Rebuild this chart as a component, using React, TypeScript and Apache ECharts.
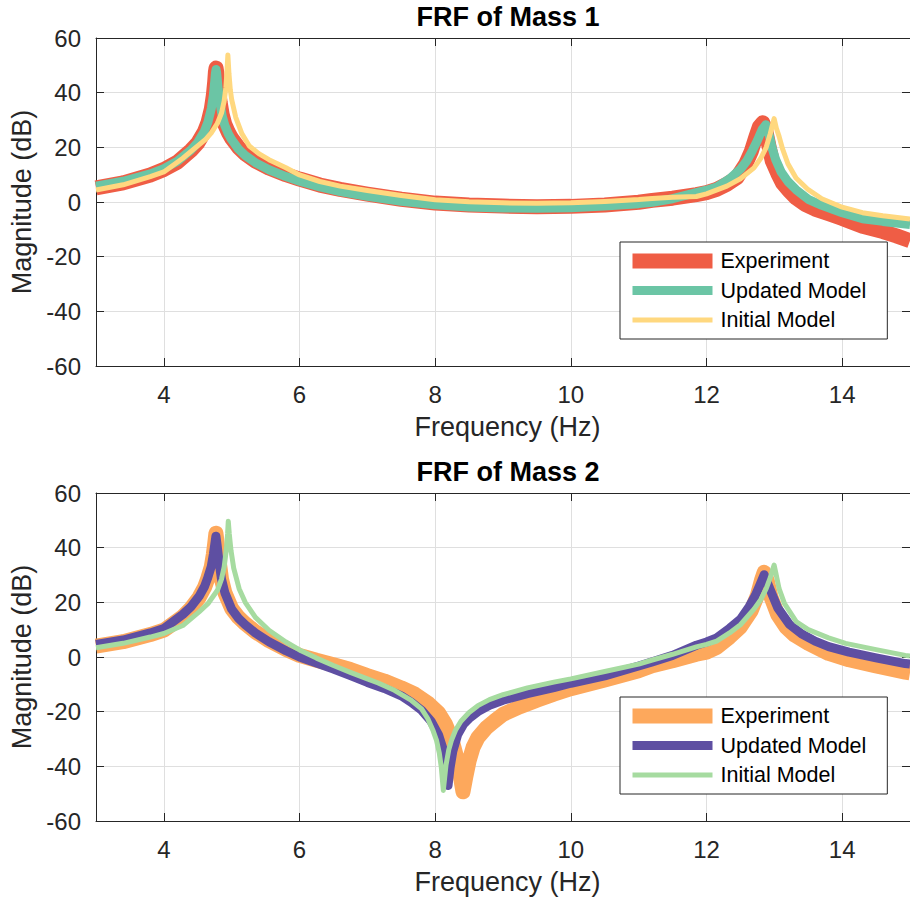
import React, { useEffect, useRef } from "react";
import * as echarts from "echarts";

// ---------- Mass 1 ----------
const m1ExpFreq = [3.0, 3.4, 3.8, 4.0, 4.2, 4.4, 4.5, 4.6, 4.65, 4.7, 4.73, 4.75, 4.76, 4.77, 4.78, 4.8, 4.83, 4.86, 4.9, 4.95, 5.0, 5.1, 5.2, 5.35, 5.55, 5.8, 6.0, 6.3, 6.6, 7.0, 7.5, 8.0, 8.5, 9.0, 9.5, 10.0, 10.5, 11.0, 11.2, 11.5, 11.85, 12.0, 12.15, 12.3, 12.45, 12.58, 12.66, 12.73, 12.78, 12.83, 12.87, 12.92, 12.97, 13.05, 13.12, 13.22, 13.32, 13.45, 13.6, 13.8, 14.0, 14.3, 14.6, 14.8, 15.0];
const m1ExpDb = [5.2, 7.0, 9.9, 11.9, 14.6, 18.9, 21.6, 25.8, 29, 34, 39, 44, 47.5, 49, 47.5, 42, 36.5, 32, 28.3, 25.5, 23.3, 20, 17.6, 15, 12.4, 10, 8.4, 6.2, 4.6, 2.9, 1.0, -0.4, -1.1, -1.5, -1.7, -1.6, -1.1, -0.1, 0.6, 1.4, 2.7, 3.4, 4.6, 6.5, 9, 14, 18.5, 24, 27.5, 29, 26.5, 20.5, 15, 10.5, 7, 4, 1.5, -0.8, -2.6, -4.3, -6.0, -8.9, -10.8, -12.4, -14.2];

const m1UpdFreq = [3.0, 3.4, 3.8, 4.0, 4.2, 4.4, 4.5, 4.6, 4.65, 4.7, 4.73, 4.75, 4.76, 4.77, 4.78, 4.8, 4.83, 4.86, 4.9, 4.95, 5.0, 5.1, 5.2, 5.35, 5.55, 5.8, 6.0, 6.3, 6.6, 7.0, 7.5, 8.0, 8.5, 9.0, 9.5, 10.0, 10.5, 11.0, 11.2, 11.5, 11.85, 12.0, 12.15, 12.34, 12.5, 12.6, 12.68, 12.75, 12.82, 12.875, 12.92, 12.97, 13.02, 13.1, 13.2, 13.32, 13.5, 13.7, 14.0, 14.3, 14.6, 15.0];
const m1UpdDb = [5.8, 7.6, 10.3, 12.2, 14.9, 19.0, 21.8, 26, 29.2, 34.2, 39, 44, 47, 48.5, 47, 41.5, 36, 31.5, 28, 25, 22.8, 19.4, 17, 14.4, 11.8, 9.3, 7.6, 5.5, 3.8, 2.1, 0.3, -1.0, -1.8, -2.2, -2.3, -2.1, -1.5, -0.6, -0.1, 1.2, 3.4, 4.3, 5.5, 8.5, 12, 15.3, 19, 22.5, 26.5, 28.3, 25, 19.5, 15.5, 11, 7.5, 4.5, 1.0, -1.2, -3.9, -6.1, -7.1, -8.2];

const m1InitFreq = [3.0, 3.4, 3.8, 4.0, 4.28, 4.45, 4.62, 4.7, 4.79, 4.85, 4.89, 4.915, 4.93, 4.944, 4.96, 4.98, 5.0, 5.06, 5.15, 5.26, 5.4, 5.55, 5.8, 6.0, 6.3, 6.6, 7.0, 7.5, 8.0, 8.5, 9.0, 9.5, 10.0, 10.5, 11.0, 11.2, 11.5, 11.85, 12.0, 12.3, 12.5, 12.7, 12.8, 12.88, 12.94, 12.975, 12.997, 13.03, 13.07, 13.12, 13.2, 13.32, 13.5, 13.7, 14.0, 14.3, 14.6, 15.0];
const m1InitDb = [4.4, 6.3, 9.3, 11.0, 16, 19.5, 23, 25.3, 28.8, 32.5, 37, 42, 47.5, 53.8, 47, 41, 37.5, 31, 25, 20.5, 17.7, 15.5, 12.5, 9.9, 7.5, 5.8, 4.2, 2.4, 0.8, 0.1, -0.3, -0.5, -0.3, 0.2, 0.9, 1.3, 1.7, 2.0, 3.0, 5.8, 8.5, 12.5, 16, 20, 25, 28.5, 30.5, 27, 24, 19.5, 14, 8.8, 4.5, 1.2, -1.9, -3.9, -5.0, -6.2];

// ---------- Mass 2 ----------
const m2ExpFreq = [3.0, 3.4, 3.8, 4.0, 4.28, 4.4, 4.52, 4.6, 4.645, 4.7, 4.73, 4.75, 4.768, 4.785, 4.81, 4.85, 4.9, 5.0, 5.1, 5.2, 5.35, 5.55, 5.8, 6.0, 6.25, 6.5, 6.75, 7.0, 7.25, 7.5, 7.7, 7.9, 8.05, 8.15, 8.25, 8.32, 8.37, 8.41, 8.45, 8.5, 8.56, 8.63, 8.75, 8.87, 9.0, 9.25, 9.5, 9.75, 10.0, 10.5, 11.0, 11.2, 11.5, 11.85, 12.0, 12.15, 12.34, 12.5, 12.66, 12.75, 12.81, 12.85, 12.9, 12.95, 13.05, 13.17, 13.3, 13.5, 13.8, 14.1, 14.5, 14.93, 15.0];
const m2ExpDb = [4.0, 5.6, 8.2, 9.8, 14.8, 17.8, 21.8, 25.5, 28.5, 33, 37.5, 41.5, 45.3, 42, 36, 28.5, 23.5, 17.7, 14.5, 12.2, 9.2, 6.0, 2.8, 0.6, -1.2, -2.8, -4.6, -6.8, -8.8, -11.3, -13.6, -17, -20.5, -24.5, -30.5, -37, -43.5, -49.3, -44, -38, -33, -29.5, -26, -23.5, -21, -18.2, -15.8, -13.6, -11.6, -8.4, -5.0, -3.2, -1.4, 1.0, 1.8, 3.5, 7.3, 11, 17, 22.5, 28, 31, 27.5, 22, 15.5, 11, 8, 5, 1.3, -1.0, -3.3, -5.5, -5.8];

const m2UpdFreq = [3.0, 3.4, 3.8, 4.0, 4.28, 4.4, 4.52, 4.6, 4.645, 4.7, 4.73, 4.75, 4.768, 4.785, 4.81, 4.85, 4.9, 5.0, 5.1, 5.2, 5.35, 5.55, 5.8, 6.0, 6.25, 6.5, 6.75, 7.0, 7.25, 7.5, 7.65, 7.8, 7.94, 8.05, 8.12, 8.16, 8.19, 8.22, 8.26, 8.33, 8.42, 8.5, 8.63, 8.8, 9.0, 9.36, 9.75, 10.0, 10.5, 11.0, 11.2, 11.5, 11.85, 12.0, 12.15, 12.34, 12.5, 12.63, 12.72, 12.79, 12.85, 12.9, 12.97, 13.05, 13.22, 13.4, 13.6, 13.8, 14.1, 14.5, 14.93, 15.0];
const m2UpdDb = [4.6, 6.2, 8.8, 10.4, 15.6, 18.4, 22.2, 25.8, 28.8, 33.2, 37.5, 41, 44.2, 41, 35.5, 28.5, 23.5, 17.5, 14.2, 11.8, 8.8, 5.6, 2.3, 0.0, -2.2, -4.4, -6.8, -9.3, -11.5, -14.2, -16.6, -19.5, -23.5, -28.5, -34, -40, -47, -40.5, -34.5, -28.5, -24.5, -22.5, -20, -17.7, -15.8, -13.4, -11.2, -9.6, -6.9, -3.3, -1.8, 0.6, 4.3, 5.5, 7, 10.5, 13.8, 18.5, 22.5, 26.5, 30.1, 27, 22.8, 18, 12, 8.5, 5.8, 3.8, 1.8, -0.3, -2.4, -2.6];

const m2InitFreq = [3.0, 3.4, 3.8, 4.0, 4.28, 4.52, 4.65, 4.79, 4.85, 4.89, 4.92, 4.94, 4.95, 4.965, 4.99, 5.03, 5.11, 5.2, 5.35, 5.55, 5.8, 6.0, 6.25, 6.5, 6.75, 7.0, 7.16, 7.4, 7.65, 7.8, 7.89, 7.97, 8.02, 8.06, 8.09, 8.12, 8.16, 8.2, 8.24, 8.3, 8.38, 8.5, 8.63, 8.8, 9.0, 9.36, 9.75, 10.0, 10.5, 11.0, 11.2, 11.5, 11.85, 12.0, 12.15, 12.34, 12.5, 12.7, 12.8, 12.88, 12.94, 12.975, 12.997, 13.02, 13.07, 13.15, 13.32, 13.5, 13.8, 14.05, 14.5, 14.93, 15.0];
const m2InitDb = [3.4, 5.0, 7.3, 8.6, 11.5, 16.5, 19.5, 24.4, 28.5, 33, 39, 45, 49.7, 45, 39, 32.5, 25, 20, 14.5, 9.8, 5.5, 2.6, -0.4, -3.1, -5.6, -8.0, -9.5, -12.2, -15.9, -19.0, -22.5, -27, -30.5, -35, -40.3, -48.8, -39.5, -34, -30.5, -26.8, -23.5, -20.3, -17.8, -15.6, -13.8, -11.3, -9.2, -8.0, -5.3, -2.6, -1.1, 1.0, 3.7, 4.6, 5.8, 8.8, 11.8, 17.5, 21, 25, 29, 32, 33.6, 31, 25, 19.5, 13, 10, 7, 5, 2.7, 0.6, 0.4];

// ---------- axes / labels ----------
const xTicks = [4, 6, 8, 10, 12, 14];
const seriesNames = ["Experiment", "Updated Model", "Initial Model"];
const panelTitles = ["FRF of Mass 1", "FRF of Mass 2"];

const FONT = '"Liberation Sans", Arial, Helvetica, sans-serif';
const AXIS_COLOR = "#262626";
const GRID_COLOR = "#dfdfdf";
const LINE_WIDTHS = [15, 9, 5];
const PANEL_COLORS = [
  ["#EF5D45", "#6BC5A5", "#FFD87F"],
  ["#FDA85C", "#5E4FA2", "#A6DBA0"],
];
const PANEL_TOP = [38, 493];
const PANEL_HEIGHT = 328;

const toPoints = (f: number[], v: number[]) => f.map((x, i) => [x, v[i]]);

const panelData = [
  [toPoints(m1ExpFreq, m1ExpDb), toPoints(m1UpdFreq, m1UpdDb), toPoints(m1InitFreq, m1InitDb)],
  [toPoints(m2ExpFreq, m2ExpDb), toPoints(m2UpdFreq, m2UpdDb), toPoints(m2InitFreq, m2InitDb)],
];

function buildOption() {
  const grid: any[] = [];
  const xAxis: any[] = [];
  const yAxis: any[] = [];
  const series: any[] = [];
  const legend: any[] = [];
  const title: any[] = [];

  const axisLine = { show: true, onZero: false, lineStyle: { color: AXIS_COLOR, width: 1 } };
  const tick = { show: true, inside: true, length: 8, lineStyle: { color: AXIS_COLOR, width: 1 } };

  PANEL_TOP.forEach((top, p) => {
    grid.push({ left: 96, right: -5, top, height: PANEL_HEIGHT, containLabel: false });

    xAxis.push({
      type: "value", gridIndex: p, position: "bottom", min: 3, max: 15,
      name: "Frequency (Hz)", nameLocation: "middle", nameGap: 47,
      nameTextStyle: { fontFamily: FONT, fontSize: 27, color: AXIS_COLOR, padding: [0, 0, 0, 9] },
      axisLine,
      axisTick: { ...tick, customValues: xTicks },
      axisLabel: { customValues: xTicks, fontFamily: FONT, fontSize: 24, color: AXIS_COLOR, margin: 16 },
      splitLine: { show: true, lineStyle: { color: GRID_COLOR, width: 1 } },
    });
    xAxis.push({
      type: "value", gridIndex: p, position: "top", min: 3, max: 15,
      axisLine,
      axisTick: { ...tick, customValues: xTicks },
      axisLabel: { show: false, customValues: xTicks },
      splitLine: { show: false },
    });

    yAxis.push({
      type: "value", gridIndex: p, position: "left", min: -60, max: 60, interval: 20,
      name: "Magnitude (dB)", nameLocation: "middle", nameGap: 59, nameRotate: 90,
      nameTextStyle: { fontFamily: FONT, fontSize: 27, color: AXIS_COLOR },
      axisLine, axisTick: tick,
      axisLabel: { fontFamily: FONT, fontSize: 24, color: AXIS_COLOR, margin: 15 },
      splitLine: { show: true, lineStyle: { color: GRID_COLOR, width: 1 } },
    });
    yAxis.push({
      type: "value", gridIndex: p, position: "right", min: -60, max: 60, interval: 20,
      axisLine, axisTick: tick, axisLabel: { show: false }, splitLine: { show: false },
    });

    panelData[p].forEach((pts, i) => {
      series.push({
        type: "line", name: seriesNames[i], data: pts,
        xAxisIndex: p * 2, yAxisIndex: p * 2,
        symbol: "none", showSymbol: false, silent: true, clip: true,
        lineStyle: { color: PANEL_COLORS[p][i], width: LINE_WIDTHS[i], cap: "butt", join: "round" },
        itemStyle: { color: PANEL_COLORS[p][i] },
        emphasis: { disabled: true },
      });
    });

    legend.push({
      orient: "vertical", left: 620, top: top + 204,
      padding: [8, 21, 8, 5], itemWidth: 80, itemHeight: 16, itemGap: 7.5,
      borderColor: AXIS_COLOR, borderWidth: 1, borderRadius: 0, backgroundColor: "#ffffff",
      selectedMode: false,
      textStyle: { fontFamily: FONT, fontSize: 21.5, color: "#000000", padding: [0, 0, 0, 3] },
      data: seriesNames.map((name, i) => ({
        name,
        lineStyle: { color: PANEL_COLORS[p][i], width: LINE_WIDTHS[i], opacity: 1, cap: "butt" },
        itemStyle: { color: PANEL_COLORS[p][i], opacity: 0 },
      })),
    });

    title.push({
      text: panelTitles[p], left: 508, top: top - 34.5, textAlign: "center", padding: 0,
      textStyle: { fontFamily: FONT, fontSize: 27, fontWeight: "bold", color: "#000000" },
    });
  });

  return {
    animation: false,
    backgroundColor: "#ffffff",
    textStyle: { fontFamily: FONT },
    title, legend, grid, xAxis, yAxis, series,
  };
}

export default function App() {
  const ref = useRef<HTMLDivElement>(null);

  useEffect(() => {
    document.body.style.margin = "0";
    if (!ref.current) return;
    const chart = echarts.init(ref.current, undefined, { renderer: "svg" });
    chart.setOption(buildOption() as any);
    return () => chart.dispose();
  }, []);

  return <div ref={ref} style={{ width: 910, height: 901 }} />;
}
